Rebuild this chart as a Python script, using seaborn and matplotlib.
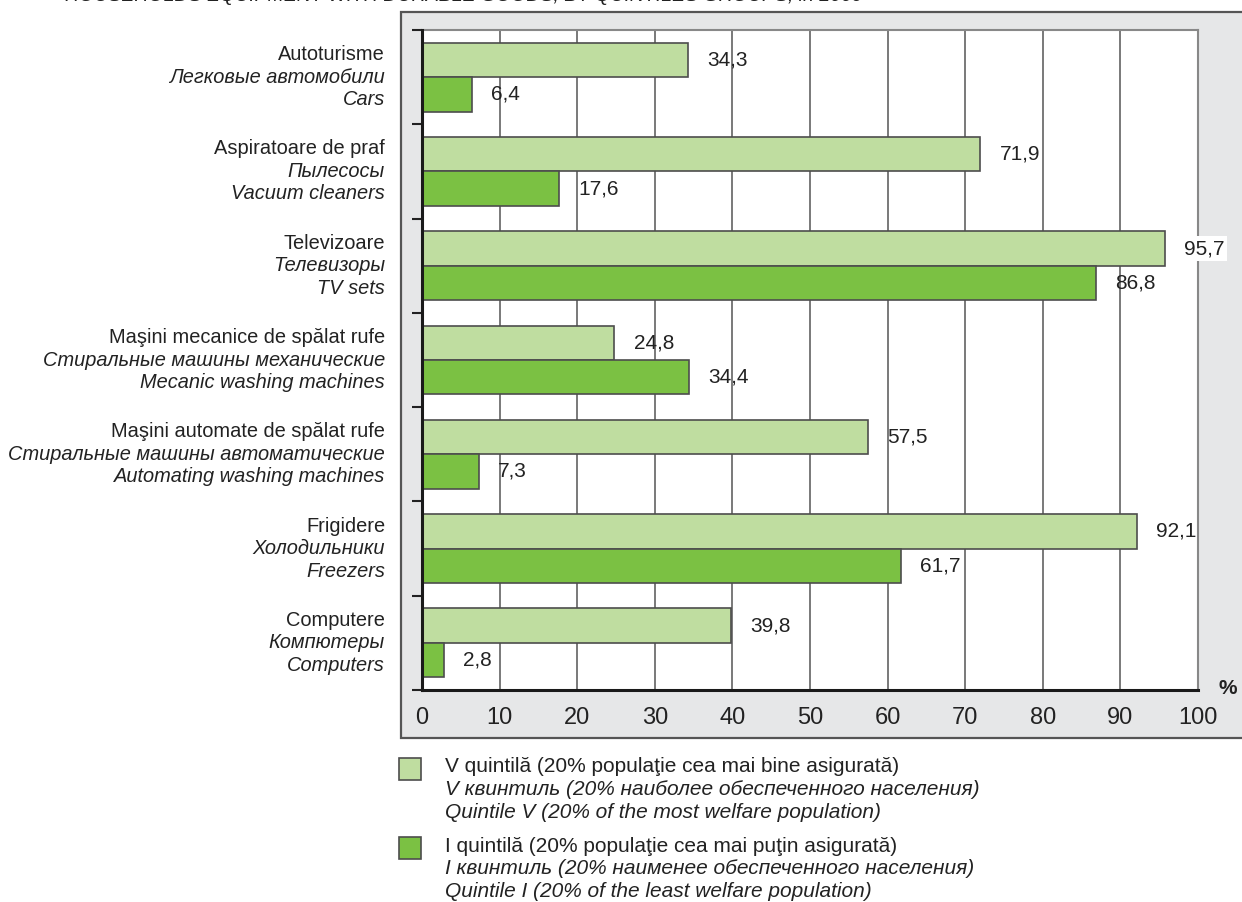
import matplotlib
matplotlib.use("Agg")
import matplotlib.pyplot as plt
import matplotlib.transforms as mtransforms
from matplotlib.patches import Rectangle
import seaborn as sns
import pandas as pd

# ---- data ----
cat_ro = ["Autoturisme", "Aspiratoare de praf", "Televizoare",
          "Maşini mecanice de spălat rufe", "Maşini automate de spălat rufe",
          "Frigidere", "Computere"]
cat_ru = ["Легковые автомобили", "Пылесосы", "Телевизоры",
          "Стиральные машины механические", "Стиральные машины автоматические",
          "Холодильники", "Компютеры"]
cat_en = ["Cars", "Vacuum cleaners", "TV sets", "Mecanic washing machines",
          "Automating washing machines", "Freezers", "Computers"]
quint_v = [34.3, 71.9, 95.7, 24.8, 57.5, 92.1, 39.8]
quint_i = [6.4, 17.6, 86.8, 34.4, 7.3, 61.7, 2.8]
x_ticks = [0, 10, 20, 30, 40, 50, 60, 70, 80, 90, 100]
leg_v = ["V quintilă (20% populaţie cea mai bine asigurată)",
         "V квинтиль (20% наиболее обеспеченного населения)",
         "Quintile V (20% of the most welfare population)"]
leg_i = ["I quintilă (20% populaţie cea mai puţin asigurată)",
         "I квинтиль (20% наименее обеспеченного населения)",
         "Quintile I (20% of the least welfare population)"]
title = "HOUSEHOLDS EQUIPMENT WITH DURABLE GOODS, BY QUINTILES GROUPS, in 2009"

c_light = "#bfdda0"
c_dark = "#7bc143"
edge = "#4d4d4d"
frame_bg = "#e6e7e8"

sns.set_theme(style="white")
plt.rcParams["font.family"] = ["Liberation Sans", "DejaVu Sans"]

W, H = 1242, 902
fig = plt.figure(figsize=(W / 100, H / 100), dpi=100)

def fx(px):
    return px / W

def fy(py):
    return 1 - py / H

# gray frame behind the plot
frame = Rectangle((fx(401), fy(738)), fx(W + 20) - fx(401), fy(12) - fy(738),
                  transform=fig.transFigure, facecolor=frame_bg,
                  edgecolor="#555555", linewidth=1.6, zorder=-5)
fig.patches.append(frame)

ax = fig.add_axes([fx(422), fy(690), fx(1198) - fx(422), fy(30) - fy(690)])
ax.set_zorder(2)
ax.set_facecolor("white")

df = pd.DataFrame({
    "cat": cat_ro * 2,
    "value": quint_v + quint_i,
    "group": ["V"] * len(cat_ro) + ["I"] * len(cat_ro),
})
sns.barplot(data=df, x="value", y="cat", hue="group", orient="h",
            palette=[c_light, c_dark], saturation=1, width=0.73, edgecolor=edge,
            linewidth=1.2, ax=ax, legend=False, zorder=3)

ax.set_xlim(0, 100)
ax.set_ylim(len(cat_ro) - 0.5, -0.5)
ax.set_xticks(x_ticks)
ax.set_xticklabels([str(t) for t in x_ticks], fontsize=17, color="#222222")
ax.tick_params(axis="x", direction="inout", length=8, width=1.5, color="#222222", pad=8)
ax.set_yticks([])
ax.set_yticks([i - 0.5 for i in range(len(cat_ro) + 1)], minor=True)
ax.tick_params(axis="y", which="minor", direction="out", length=7, width=1.5,
               color="#222222", left=True)
ax.set_xlabel("")
ax.set_ylabel("")
ax.xaxis.grid(True, color="#555555", linewidth=1.1, zorder=0)
ax.set_axisbelow(True)
for s in ["left", "bottom"]:
    ax.spines[s].set_color("#1a1a1a")
    ax.spines[s].set_linewidth(2.2)
    ax.spines[s].set_zorder(5)
for s in ["top", "right"]:
    ax.spines[s].set_color("#888888")
    ax.spines[s].set_linewidth(1.5)

# value labels
for cont, vals in zip(ax.containers, [quint_v, quint_i]):
    texts = ax.bar_label(cont, labels=[f"{v:.1f}".replace(".", ",") for v in vals],
                         padding=14, fontsize=15, color="#222222", clip_on=False, zorder=6)
    for t, v in zip(texts, vals):
        if v > 94:
            t.set_bbox(dict(facecolor="white", edgecolor="none", pad=2))

# category labels (3 lines each)
base = ax.get_yaxis_transform()
for i, (ro, ru, en) in enumerate(zip(cat_ro, cat_ru, cat_en)):
    for k, (txt, st) in enumerate([(ro, "normal"), (ru, "italic"), (en, "italic")]):
        tr = mtransforms.offset_copy(base, fig=fig, x=-37, y=(1 - k) * 22.5, units="dots")
        ax.text(0, i, txt, transform=tr, ha="right", va="center", fontsize=14.4,
                style=st, color="#222222")

# percent sign
fig.text(fx(1228), fy(688), "%", fontsize=15, fontweight="bold", ha="center",
         va="center", color="#222222")

# legend
for top, lines, col in [(758, leg_v, c_light), (837, leg_i, c_dark)]:
    sq = Rectangle((fx(399), fy(top + 22)), fx(22), 22 / H, transform=fig.transFigure,
                   facecolor=col, edgecolor=edge, linewidth=1.2)
    fig.patches.append(sq)
    for k, (txt, st) in enumerate(zip(lines, ["normal", "italic", "italic"])):
        fig.text(fx(445), fy(top + 9 + k * 22.7), txt, fontsize=15, style=st,
                 ha="left", va="center", color="#222222")

# title (cut off at the top edge)
fig.text(fx(65), fy(-3), title, fontsize=14, style="italic", ha="left",
         va="center", color="#222222")

fig.savefig("out.png", dpi=100)
